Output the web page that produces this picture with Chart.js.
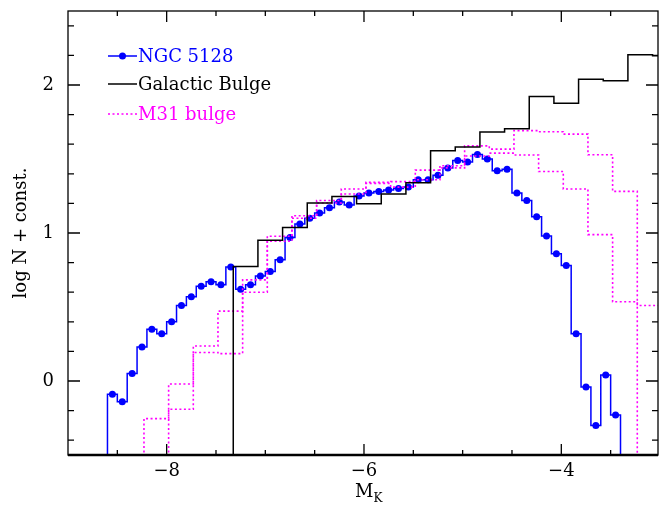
<!DOCTYPE html>
<html>
<head>
<meta charset="utf-8">
<script src="https://cdn.jsdelivr.net/npm/chart.js@4/dist/chart.umd.min.js"></script>
<style>
  html, body { margin: 0; padding: 0; background: #fff; }
  #wrap { width: 662px; height: 508px; }
</style>
</head>
<body>
<div id="wrap"><canvas id="lfChart" width="662" height="508"></canvas></div>
<script>
// NGC 5128: 0.1 mag bins, first bin starts at -8.6
const ngcStart = -8.6;
const ngcWidth = 0.1;
const ngcValues = [
  -0.09, -0.14, 0.05, 0.23, 0.35, 0.32, 0.40, 0.51, 0.57, 0.64,
  0.67, 0.65, 0.77, 0.62, 0.65, 0.71, 0.74, 0.82, 0.97, 1.06,
  1.10, 1.135, 1.17, 1.21, 1.19, 1.25, 1.27, 1.28, 1.29, 1.30,
  1.31, 1.36, 1.36, 1.39, 1.44, 1.49, 1.48, 1.53, 1.50, 1.42,
  1.43, 1.27, 1.22, 1.11, 0.98, 0.86, 0.78, 0.32, -0.04, -0.30,
  0.04, -0.23
];

// Galactic bulge: 0.25 mag bins from -7.325
const bulgeStart = -7.325;
const bulgeWidth = 0.25;
const bulgeValues = [
  0.773, 0.951, 1.038, 1.203, 1.247, 1.198, 1.264, 1.340, 1.556, 1.581,
  1.682, 1.704, 1.922, 1.877, 2.039, 2.028, 2.205, 2.198
];

// M31 bulge: two dotted histograms, 0.25 mag bins
const m31Width = 0.25;
const m31UpperStart = -8.23;
const m31Upper = [
  -0.254, -0.02, 0.236, 0.472, 0.683, 0.978, 1.117, 1.22, 1.297, 1.342,
  1.347, 1.425, 1.454, 1.589, 1.567, 1.692, 1.684, 1.668, 1.529, 1.281,
  0.51
];
const m31LowerStart = -7.98;
const m31Lower = [
  -0.191, 0.193, 0.185, 0.600, 0.944, 1.10, 1.203, 1.264, 1.335, 1.31,
  1.36, 1.44, 1.52, 1.54, 1.527, 1.416, 1.297, 0.989, 0.535
];

// axis ranges and labelled ticks
const xMin = -9.0, xMax = -3.02;
const yMin = -0.5, yMax = 2.5;
const xTickLabels = [-8, -6, -4];
const yTickLabels = [0, 1, 2];
const FLOOR = -1; // off the bottom of the plot

const FONT = "'DejaVu Serif', 'Liberation Serif', serif";

// step outline of a histogram (horizontal first, then vertical)
function histSteps(start, width, values) {
  const pts = [{ x: start, y: FLOOR }];
  values.forEach((v, i) => pts.push({ x: start + i * width, y: v }));
  const end = start + values.length * width;
  pts.push({ x: end, y: values[values.length - 1] });
  pts.push({ x: end, y: FLOOR });
  return pts;
}

const ngcCenters = ngcValues.map((v, i) => ({ x: ngcStart + (i + 0.5) * ngcWidth, y: v }));

// inward ticks on all four sides plus the box
const frameTicks = {
  id: 'frameTicks',
  afterDraw(chart) {
    const { ctx, chartArea: a, scales: { x, y } } = chart;
    ctx.save();
    ctx.strokeStyle = '#000';
    ctx.lineWidth = 1.3;
    ctx.beginPath();
    for (let k = -18; k <= -6; k++) {
      const px = x.getPixelForValue(k / 2);
      if (px < a.left + 1 || px > a.right - 1) continue;
      const len = (k % 4 === 0) ? 11 : 5;
      ctx.moveTo(px, a.bottom); ctx.lineTo(px, a.bottom - len);
      ctx.moveTo(px, a.top); ctx.lineTo(px, a.top + len);
    }
    for (let k = -2; k <= 12; k++) {
      const py = y.getPixelForValue(k / 5);
      const len = (k % 5 === 0) ? 12 : 6;
      ctx.moveTo(a.left, py); ctx.lineTo(a.left + len, py);
      ctx.moveTo(a.right, py); ctx.lineTo(a.right - len, py);
    }
    ctx.stroke();
    ctx.strokeRect(a.left, a.top, a.right - a.left, a.bottom - a.top);
    ctx.lineWidth = 2.5;
    ctx.beginPath();
    ctx.moveTo(a.left, a.bottom); ctx.lineTo(a.right, a.bottom);
    ctx.stroke();

    // x axis title M with subscript K
    ctx.fillStyle = '#000';
    ctx.textBaseline = 'alphabetic';
    ctx.textAlign = 'left';
    ctx.font = '18px ' + FONT;
    const mx = (a.left + a.right) / 2 - 8;
    ctx.fillText('M', mx, 497);
    const mw = ctx.measureText('M').width;
    ctx.font = '12px ' + FONT;
    ctx.fillText('K', mx + mw, 502);
    ctx.restore();
  }
};

// legend inside the plot, top left
const insideLegend = {
  id: 'insideLegend',
  afterDraw(chart) {
    const { ctx, chartArea: a } = chart;
    const x0 = a.left + 40, x1 = a.left + 69;
    const rows = [
      { label: 'NGC 5128', color: '#0000ff', dash: [], dot: true, y: a.top + 45 },
      { label: 'Galactic Bulge', color: '#000000', dash: [], dot: false, y: a.top + 73 },
      { label: 'M31 bulge', color: '#ff00ff', dash: [2, 2.5], dot: false, y: a.top + 103 }
    ];
    ctx.save();
    ctx.font = '18px ' + FONT;
    ctx.textBaseline = 'middle';
    rows.forEach(r => {
      ctx.strokeStyle = r.color;
      ctx.lineWidth = 1.5;
      ctx.setLineDash(r.dash);
      ctx.beginPath();
      ctx.moveTo(x0, r.y); ctx.lineTo(x1, r.y);
      ctx.stroke();
      ctx.setLineDash([]);
      if (r.dot) {
        ctx.fillStyle = r.color;
        ctx.beginPath();
        ctx.arc((x0 + x1) / 2, r.y, 3.5, 0, Math.PI * 2);
        ctx.fill();
      }
      ctx.fillStyle = r.color;
      ctx.fillText(r.label, x1 + 1, r.y + 1);
    });
    ctx.restore();
  }
};

const ctx = document.getElementById('lfChart').getContext('2d');
new Chart(ctx, {
  type: 'scatter',
  data: {
    datasets: [
      {
        label: 'Galactic Bulge',
        data: histSteps(bulgeStart, bulgeWidth, bulgeValues),
        showLine: true, stepped: 'before', pointRadius: 0,
        borderColor: '#000000', borderWidth: 1.5, clip: 0
      },
      {
        label: 'M31 bulge',
        data: histSteps(m31UpperStart, m31Width, m31Upper),
        showLine: true, stepped: 'before', pointRadius: 0,
        borderColor: '#ff00ff', borderWidth: 1.6, borderDash: [2, 2.5], clip: 0
      },
      {
        label: 'M31 bulge (lower)',
        data: histSteps(m31LowerStart, m31Width, m31Lower),
        showLine: true, stepped: 'before', pointRadius: 0,
        borderColor: '#ff00ff', borderWidth: 1.6, borderDash: [2, 2.5], clip: 0
      },
      {
        label: 'NGC 5128',
        data: histSteps(ngcStart, ngcWidth, ngcValues),
        showLine: true, stepped: 'before', pointRadius: 0,
        borderColor: '#0000ff', borderWidth: 1.5, clip: 0
      },
      {
        label: 'NGC 5128 points',
        data: ngcCenters,
        showLine: false, pointRadius: 3.5,
        backgroundColor: '#0000ff', borderWidth: 0, clip: 0
      }
    ]
  },
  options: {
    responsive: false,
    animation: false,
    layout: { padding: { left: 0, top: 11, right: 2, bottom: 0 } },
    plugins: {
      legend: { display: false },
      tooltip: { enabled: false }
    },
    scales: {
      x: {
        type: 'linear',
        min: xMin, max: xMax,
        grid: { display: false, drawTicks: false },
        border: { display: false },
        ticks: {
          autoSkip: false,
          maxRotation: 0,
          padding: 6,
          color: '#000',
          font: { family: FONT, size: 18 },
          callback: v => '\u2212' + Math.abs(v)
        },
        afterBuildTicks: s => { s.ticks = xTickLabels.map(v => ({ value: v })); },
        afterFit: s => {
          s.height = 53;
          s.paddingLeft = 0; s.paddingRight = 0;
        }
      },
      y: {
        type: 'linear',
        min: yMin, max: yMax,
        grid: { display: false, drawTicks: false },
        border: { display: false },
        title: {
          display: true,
          text: 'log N + const.',
          color: '#000',
          font: { family: FONT, size: 18 },
          padding: { top: 11, bottom: 0 }
        },
        ticks: {
          autoSkip: false,
          padding: 14,
          color: '#000',
          font: { family: FONT, size: 18 },
          callback: v => String(v)
        },
        afterBuildTicks: s => { s.ticks = yTickLabels.map(v => ({ value: v })); },
        afterFit: s => {
          s.width = 68;
          s.paddingTop = 0; s.paddingBottom = 0;
        }
      }
    }
  },
  plugins: [frameTicks, insideLegend]
});
</script>
</body>
</html>
